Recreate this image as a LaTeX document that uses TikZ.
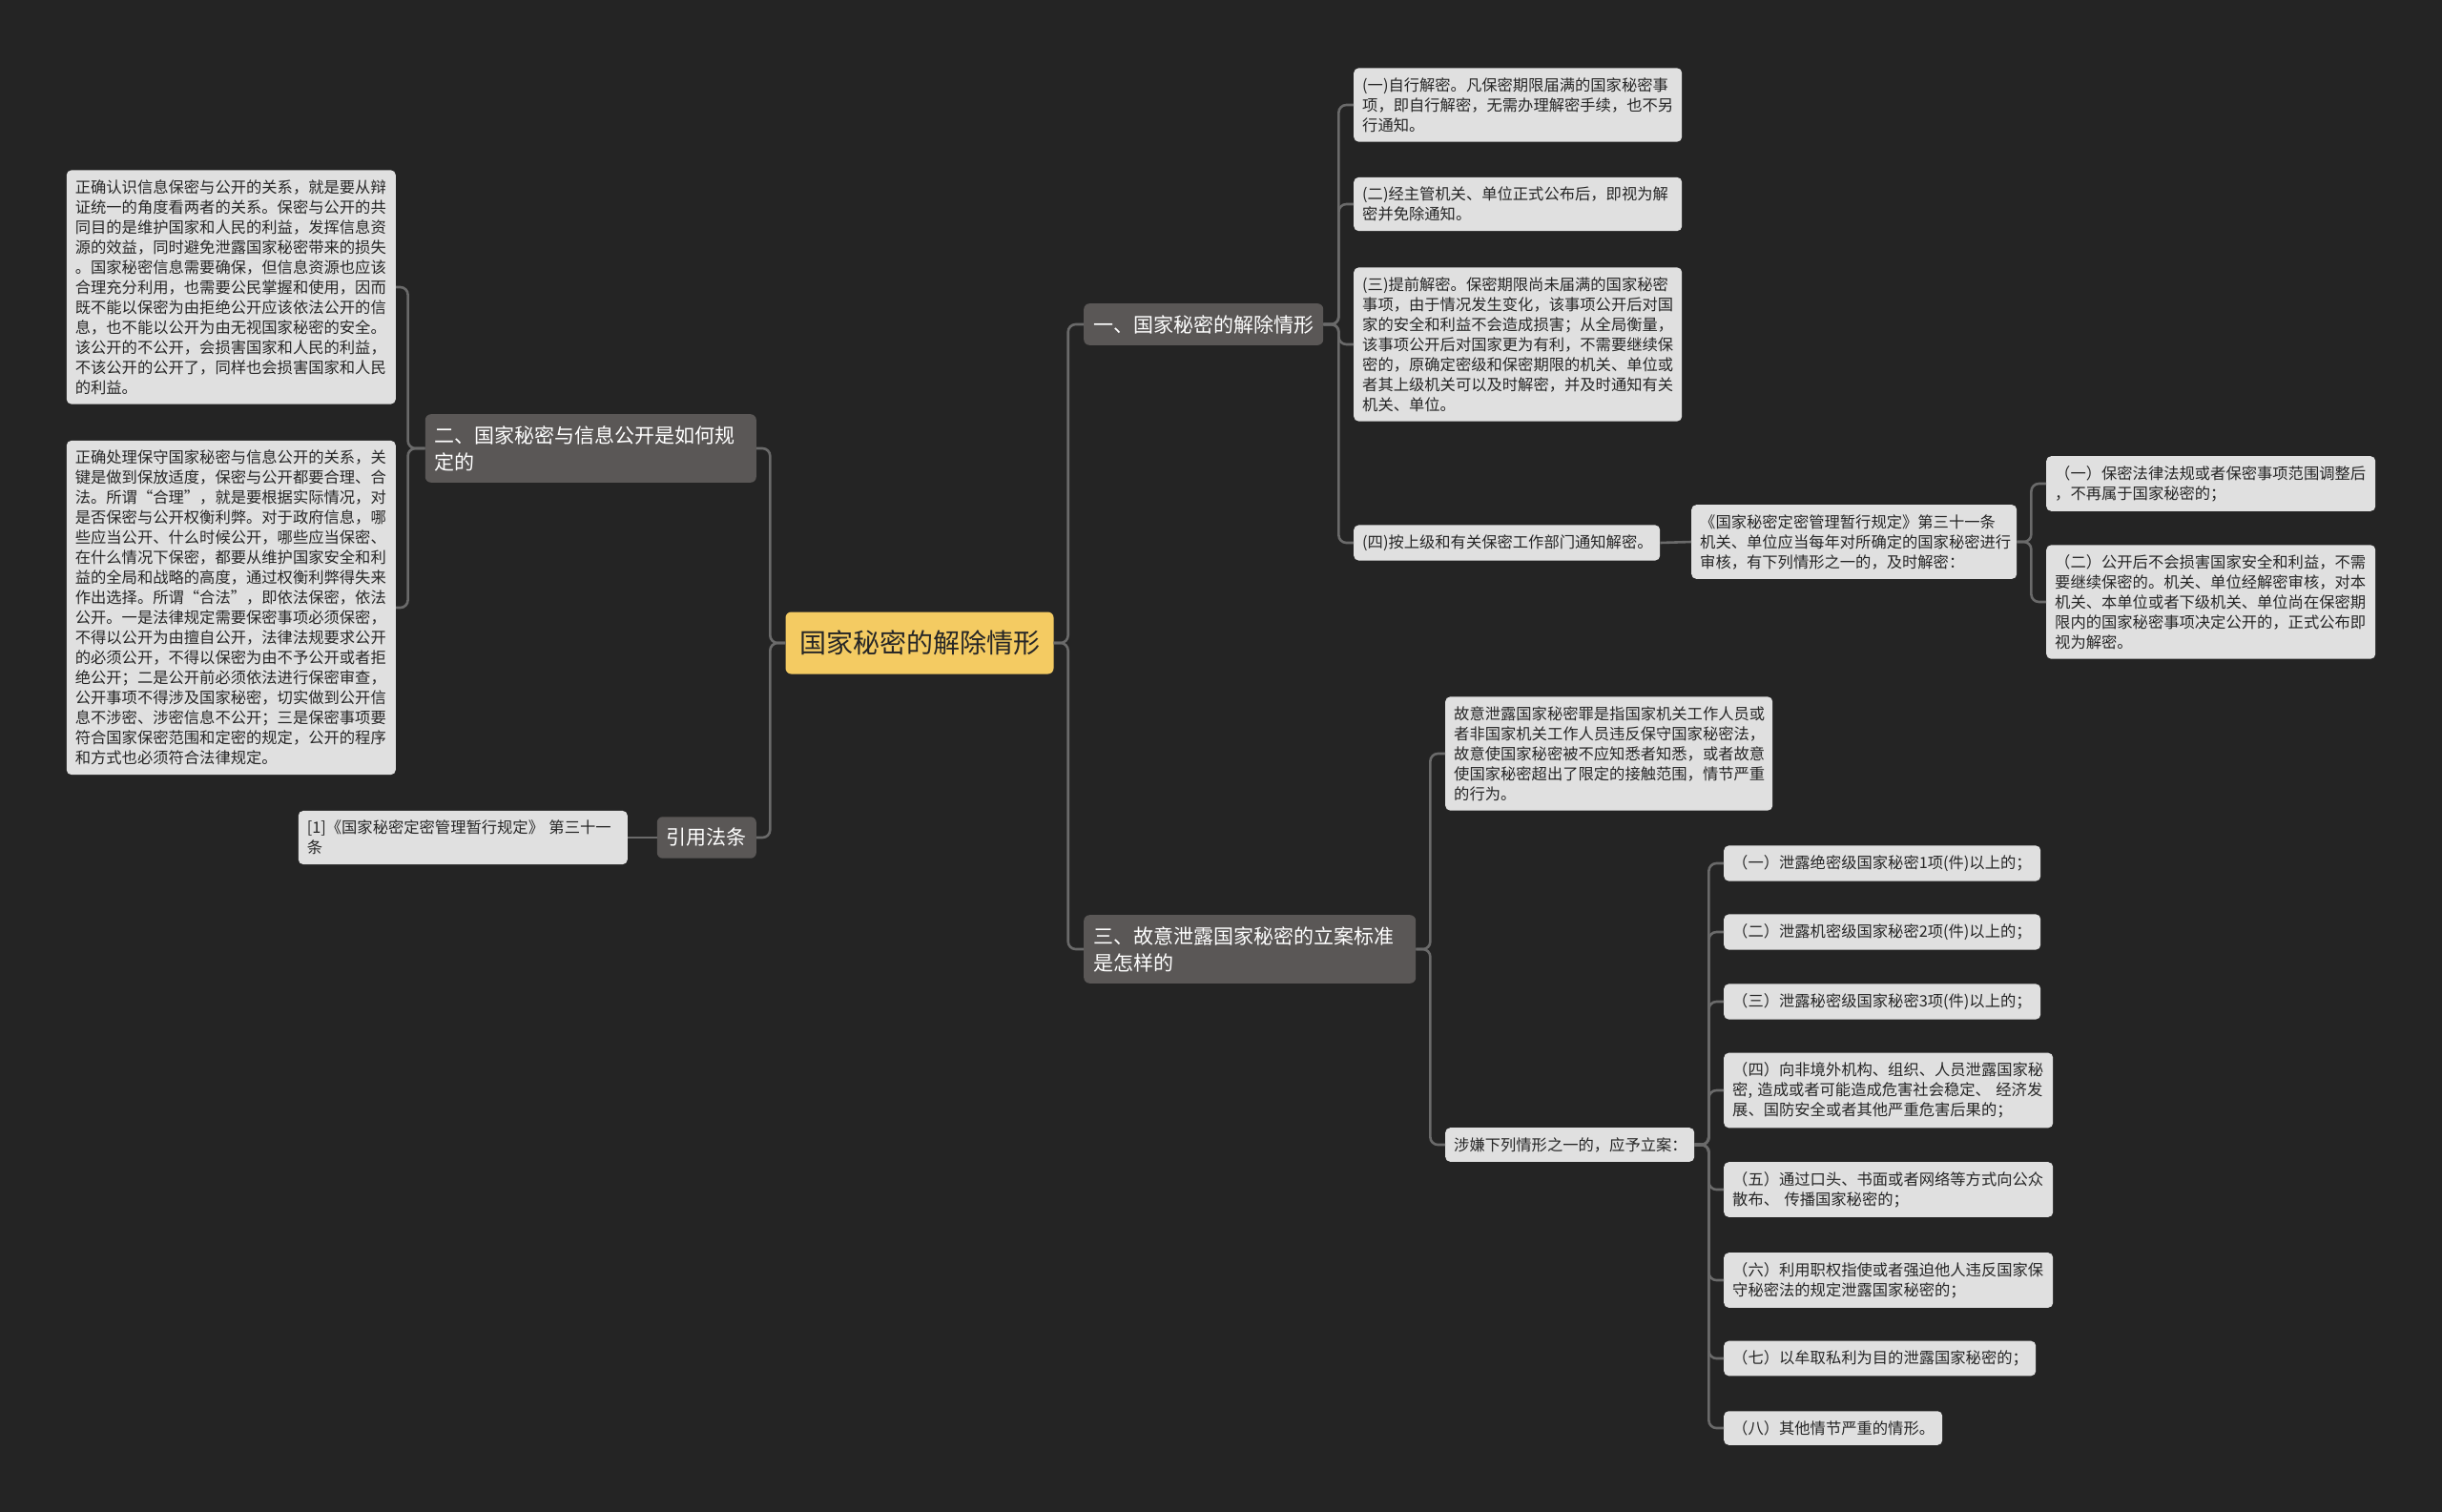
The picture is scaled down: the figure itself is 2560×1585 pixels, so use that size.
\documentclass[tikz,border=0pt]{standalone}
\usepackage{fontspec}
\setmainfont{Noto Sans CJK SC}
\usepackage{tikz}
\definecolor{MapBg}{HTML}{242424}
\definecolor{MapRoot}{HTML}{F4CB62}
\definecolor{MapBranch}{HTML}{5A5756}
\definecolor{MapLeaf}{HTML}{E0E0E0}
\definecolor{MapLine}{HTML}{6A6A6A}
\definecolor{MapInk}{HTML}{262626}
\begin{document}
\begin{tikzpicture}[x=1pt,y=-1pt,
  rootbox/.style={fill=MapRoot,text=MapInk,rounded corners=6pt,minimum width=281pt,minimum height=65pt,font=\fontsize{28}{34}\selectfont},
  branch/.style={fill=MapBranch,text=white,rounded corners=6pt,inner xsep=10pt,inner ysep=12pt,align=left,font=\fontsize{21}{28}\selectfont},
  leaf/.style={fill=MapLeaf,text=MapInk,rounded corners=5pt,inner xsep=9pt,inner ysep=10pt,align=left,font=\fontsize{16.3}{21}\selectfont},
  link/.style={draw=MapLine,line width=2.6pt,rounded corners=8pt}]
  \useasboundingbox (0,0) rectangle (2560,1585);
  \fill[MapBg] (0,0) rectangle (2560,1585);

  \node[rootbox] (root) at (964,674) {国家秘密的解除情形};

  % right side
  \node[branch,anchor=west] (sec1) at (1136,340) {一、国家秘密的解除情形};
  \node[leaf,anchor=west,text width=326pt] (s1a) at (1419,110) {(一)自行解密。凡保密期限届满的国家秘密事\\项，即自行解密，无需办理解密手续，也不另\\行通知。};
  \node[leaf,anchor=west,text width=326pt] (s1b) at (1419,214) {(二)经主管机关、单位正式公布后，即视为解\\密并免除通知。};
  \node[leaf,anchor=west,text width=326pt] (s1c) at (1419,361) {(三)提前解密。保密期限尚未届满的国家秘密\\事项，由于情况发生变化，该事项公开后对国\\家的安全和利益不会造成损害；从全局衡量，\\该事项公开后对国家更为有利，不需要继续保\\密的，原确定密级和保密期限的机关、单位或\\者其上级机关可以及时解密，并及时通知有关\\机关、单位。};
  \node[leaf,anchor=west,text width=303pt] (s1d) at (1419,569) {(四)按上级和有关保密工作部门通知解密。};
  \node[leaf,anchor=west,text width=323pt] (rule) at (1773,568) {《国家秘密定密管理暂行规定》第三十一条\\机关、单位应当每年对所确定的国家秘密进行\\审核，有下列情形之一的，及时解密：};
  \node[leaf,anchor=west,text width=327pt] (rule1) at (2145,507) {（一）保密法律法规或者保密事项范围调整后\\，不再属于国家秘密的；};
  \node[leaf,anchor=west,text width=327pt] (rule2) at (2145,631) {（二）公开后不会损害国家安全和利益，不需\\要继续保密的。机关、单位经解密审核，对本\\机关、本单位或者下级机关、单位尚在保密期\\限内的国家秘密事项决定公开的，正式公布即\\视为解密。};

  \node[branch,anchor=west,text width=328pt] (sec3) at (1136,995) {三、故意泄露国家秘密的立案标准\\是怎样的};
  \node[leaf,anchor=west,text width=325pt] (s3a) at (1515,790) {故意泄露国家秘密罪是指国家机关工作人员或\\者非国家机关工作人员违反保守国家秘密法，\\故意使国家秘密被不应知悉者知悉，或者故意\\使国家秘密超出了限定的接触范围，情节严重\\的行为。};
  \node[leaf,anchor=west,text width=243pt] (s3b) at (1515,1200) {涉嫌下列情形之一的，应予立案：};
  \node[leaf,anchor=west,text width=314pt] (case1) at (1807,905) {（一）泄露绝密级国家秘密1项(件)以上的；};
  \node[leaf,anchor=west,text width=314pt] (case2) at (1807,977) {（二）泄露机密级国家秘密2项(件)以上的；};
  \node[leaf,anchor=west,text width=314pt] (case3) at (1807,1050) {（三）泄露秘密级国家秘密3项(件)以上的；};
  \node[leaf,anchor=west,text width=327pt] (case4) at (1807,1143) {（四）向非境外机构、组织、人员泄露国家秘\\密, 造成或者可能造成危害社会稳定、 经济发\\展、国防安全或者其他严重危害后果的；};
  \node[leaf,anchor=west,text width=327pt] (case5) at (1807,1247) {（五）通过口头、书面或者网络等方式向公众\\散布、 传播国家秘密的；};
  \node[leaf,anchor=west,text width=327pt] (case6) at (1807,1342) {（六）利用职权指使或者强迫他人违反国家保\\守秘密法的规定泄露国家秘密的；};
  \node[leaf,anchor=west,text width=309pt] (case7) at (1807,1424) {（七）以牟取私利为目的泄露国家秘密的；};
  \node[leaf,anchor=west,text width=211pt] (case8) at (1807,1497) {（八）其他情节严重的情形。};

  % left side
  \node[branch,anchor=east,text width=327pt] (sec2) at (793,470) {二、国家秘密与信息公开是如何规\\定的};
  \node[leaf,anchor=east,text width=327pt] (s2a) at (415,301) {正确认识信息保密与公开的关系，就是要从辩\\证统一的角度看两者的关系。保密与公开的共\\同目的是维护国家和人民的利益，发挥信息资\\源的效益，同时避免泄露国家秘密带来的损失\\。国家秘密信息需要确保，但信息资源也应该\\合理充分利用，也需要公民掌握和使用，因而\\既不能以保密为由拒绝公开应该依法公开的信\\息，也不能以公开为由无视国家秘密的安全。\\该公开的不公开，会损害国家和人民的利益，\\不该公开的公开了，同样也会损害国家和人民\\的利益。};
  \node[leaf,anchor=east,text width=327pt] (s2b) at (415,637) {正确处理保守国家秘密与信息公开的关系，关\\键是做到保放适度，保密与公开都要合理、合\\法。所谓“合理”，就是要根据实际情况，对\\是否保密与公开权衡利弊。对于政府信息，哪\\些应当公开、什么时候公开，哪些应当保密、\\在什么情况下保密，都要从维护国家安全和利\\益的全局和战略的高度，通过权衡利弊得失来\\作出选择。所谓“合法”，即依法保密，依法\\公开。一是法律规定需要保密事项必须保密，\\不得以公开为由擅自公开，法律法规要求公开\\的必须公开，不得以保密为由不予公开或者拒\\绝公开；二是公开前必须依法进行保密审查，\\公开事项不得涉及国家秘密，切实做到公开信\\息不涉密、涉密信息不公开；三是保密事项要\\符合国家保密范围和定密的规定，公开的程序\\和方式也必须符合法律规定。};
  \node[branch,anchor=east] (cite) at (793,878) {引用法条};
  \node[leaf,anchor=east,text width=327pt] (cite1) at (658,878) {[1]《国家秘密定密管理暂行规定》 第三十一\\条};

  % connectors
  \draw[link] (root.east) -- ++(15,0) |- (sec1.west);
  \draw[link] (root.east) -- ++(15,0) |- (sec3.west);
  \draw[link] (root.west) -- ++(-16,0) |- (sec2.east);
  \draw[link] (root.west) -- ++(-16,0) |- (cite.east);

  \draw[link] (sec1.east) -- ++(16,0) |- (s1a.west);
  \draw[link] (sec1.east) -- ++(16,0) |- (s1b.west);
  \draw[link] (sec1.east) -- ++(16,0) |- (s1c.west);
  \draw[link] (sec1.east) -- ++(16,0) |- (s1d.west);
  \draw[link] (s1d.east) -- (rule.west);
  \draw[link] (rule.east) -- ++(15,0) |- (rule1.west);
  \draw[link] (rule.east) -- ++(15,0) |- (rule2.west);

  \draw[link] (sec3.east) -- ++(15,0) |- (s3a.west);
  \draw[link] (sec3.east) -- ++(15,0) |- (s3b.west);
  \draw[link] (s3b.east) -- ++(15,0) |- (case1.west);
  \draw[link] (s3b.east) -- ++(15,0) |- (case2.west);
  \draw[link] (s3b.east) -- ++(15,0) |- (case3.west);
  \draw[link] (s3b.east) -- ++(15,0) |- (case4.west);
  \draw[link] (s3b.east) -- ++(15,0) |- (case5.west);
  \draw[link] (s3b.east) -- ++(15,0) |- (case6.west);
  \draw[link] (s3b.east) -- ++(15,0) |- (case7.west);
  \draw[link] (s3b.east) -- ++(15,0) |- (case8.west);

  \draw[link] (sec2.west) -- ++(-18,0) |- (s2a.east);
  \draw[link] (sec2.west) -- ++(-18,0) |- (s2b.east);
  \draw[link] (cite.west) -- (cite1.east);
\end{tikzpicture}
\end{document}
